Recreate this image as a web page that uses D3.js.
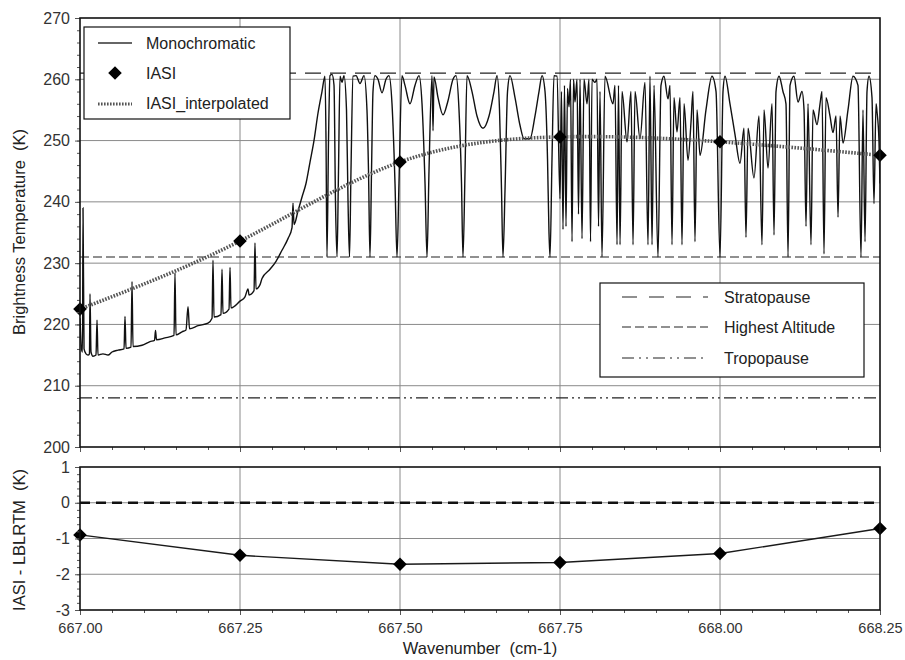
<!DOCTYPE html>
<html>
<head>
<meta charset="utf-8">
<title>IASI vs LBLRTM</title>
<style>
body { margin: 0; background: #fff; }
svg { font-family: "Liberation Sans", Arial, sans-serif; }
text { white-space: pre; }
.tick text { fill: #333; }
</style>
<script src="https://cdn.jsdelivr.net/npm/d3@7"></script>
</head>
<body>
<svg id="chart" width="905" height="660"></svg>
<script>
// tick labels
var xTicks = [667.00, 667.25, 667.50, 667.75, 668.00, 668.25];
var yTicksTop = [200, 210, 220, 230, 240, 250, 260, 270];
var yTicksBot = [-3, -2, -1, 0, 1];

// IASI channels
var iasiWn = [667.00, 667.25, 667.50, 667.75, 668.00, 668.25];
var iasiTb = [222.5, 233.6, 246.5, 250.6, 249.8, 247.6];
var diffK = [-0.9, -1.47, -1.72, -1.67, -1.42, -0.72];

// reference levels (K)
var levelNames = ["Stratopause", "Highest Altitude", "Tropopause"];
var levelTb = [261, 231, 208];

// monochromatic spectrum [wavenumber, Tb]
var mono = [
[667.0000,221],[667.0023,216],[667.0039,215.5],[667.0047,239],[667.0063,216],[667.0094,215.2],[667.0125,215],[667.0148,215.2],[667.0156,225],[667.0172,215.5],
[667.0203,214.8],[667.0250,215],[667.0266,220.7],[667.0281,215],[667.0359,215.2],[667.0438,215],[667.0500,215.5],[667.0594,215.8],[667.0688,216],[667.0703,221.3],
[667.0719,216.1],[667.0797,216.3],[667.0813,227],[667.0828,216.4],[667.0969,216.6],[667.1094,217.2],[667.1164,217.4],[667.1180,219],[667.1195,217.5],[667.1328,217.8],
[667.1469,218.2],[667.1484,228.4],[667.1500,218.3],[667.1594,218.8],[667.1656,219.1],[667.1688,222.9],[667.1711,219.3],[667.1844,219.8],[667.2000,220.2],[667.2063,221],
[667.2078,230.5],[667.2094,221.2],[667.2203,221.6],[667.2219,229],[667.2234,221.8],[667.2328,222.5],[667.2344,229.3],[667.2359,222.7],[667.2500,223.8],[667.2578,224.5],
[667.2625,225.8],[667.2641,224.8],[667.2719,225.5],[667.2734,233.3],[667.2750,225.8],[667.2813,226.5],[667.2844,227.5],[667.2969,229],[667.3063,230.3],[667.3156,232.1],
[667.3250,234],[667.3313,235.8],[667.3328,239.8],[667.3344,236.3],[667.3406,238.5],[667.3469,240.8],[667.3531,243],[667.3594,246.5],[667.3656,250],[667.3719,254.5],
[667.3781,258],
[667.3828,260.5],[667.3844,250],[667.3859,231],[667.3883,250],[667.3906,260.6],[667.3938,260.8],[667.3969,259],[667.3992,240],[667.4016,231],[667.4039,245],
[667.4063,260.5],[667.4094,259.5],[667.4125,260.6],[667.4164,255],[667.4188,240],[667.4211,231],[667.4234,245],[667.4266,260.5],[667.4313,260.6],[667.4375,259.3],
[667.4438,260.6],[667.4484,255],[667.4508,245],[667.4531,231],[667.4555,245],[667.4578,258],[667.4609,260.6],[667.4656,260],[667.4719,257.8],[667.4781,260],
[667.4828,260.6],[667.4875,256],[667.4922,243],[667.4953,231],[667.4984,243],[667.5031,260.6],[667.5078,259],[667.5156,256],[667.5234,259],[667.5297,260.6],
[667.5344,256],[667.5391,243],[667.5422,231],[667.5453,245],[667.5500,260.6],[667.5516,251.6],[667.5531,260.4],[667.5594,257],[667.5672,254.2],[667.5750,256.5],
[667.5828,260],[667.5875,260.6],[667.5922,255],[667.5961,243],[667.5984,231],[667.6016,245],[667.6047,260.6],[667.6125,258],[667.6203,254],[667.6297,252],
[667.6391,254],[667.6469,258],[667.6516,260.6],[667.6555,255],[667.6586,242],[667.6609,231],[667.6641,242],[667.6680,258],[667.6719,260.6],[667.6797,257],
[667.6875,252.5],[667.6938,250.3],[667.7031,250.3],[667.7109,254],[667.7172,258],[667.7219,260.6],[667.7266,258],[667.7305,247],[667.7328,235],[667.7344,231],
[667.7375,247],[667.7406,260.6],[667.7453,260.5],
[667.7500,240.5],[667.7523,258],[667.7547,235.5],[667.7570,259],[667.7594,236],[667.7617,258.5],[667.7641,255.5],[667.7664,260],[667.7688,233.5],[667.7711,260],
[667.7734,256.3],[667.7766,260],[667.7789,238],[667.7813,260],[667.7844,234],[667.7875,260],[667.7922,256],[667.7953,260],[667.7977,233.5],[667.8000,260],
[667.8047,259.5],[667.8078,260],[667.8102,236],[667.8125,258],[667.8156,231],[667.8203,260.5],[667.8328,256],[667.8359,259],[667.8391,233],[667.8414,259],
[667.8438,233],[667.8469,258],[667.8547,249.8],[667.8609,258],[667.8641,233],[667.8672,258],[667.8750,250.3],[667.8828,259.5],[667.8875,233],[667.8906,260.5],
[667.8938,233],[667.8969,259],[667.9031,231],[667.9078,259],[667.9125,260.5],[667.9188,256.8],[667.9219,259],[667.9250,233],[667.9281,257],[667.9328,251.4],
[667.9375,257],[667.9406,233],[667.9438,256],[667.9500,246.8],[667.9547,253],[667.9578,258],[667.9609,233.5],[667.9641,255],[667.9688,247.6],[667.9781,255],
[667.9875,260.5],[667.9938,258],[668.0000,231],[668.0047,258],[668.0078,260.5],[668.0156,256],[668.0234,251],[668.0313,246.3],[668.0375,252],[668.0406,234.2],
[668.0438,252],[668.0531,243.9],[668.0609,254],[668.0656,233],[668.0688,255],[668.0750,245.5],[668.0813,256],[668.0844,234.6],[668.0875,258],[668.0922,260.5],
[668.0984,258],[668.1031,256],[668.1063,231],[668.1094,259],[668.1156,260.5],[668.1219,256.3],[668.1281,258],[668.1313,255],[668.1344,236],[668.1375,256],
[668.1422,233],[668.1453,255],[668.1516,252.6],[668.1563,256],[668.1594,258],[668.1625,231.5],[668.1656,257],[668.1719,254],[668.1766,251.3],[668.1813,254],
[668.1844,237.5],[668.1875,254],[668.1922,249.6],[668.2000,255],[668.2078,260.5],[668.2156,259],[668.2203,231],[668.2234,255],[668.2266,233.5],[668.2297,258],
[668.2328,260.5],[668.2375,257],[668.2406,239.7],[668.2438,256],[668.2453,254.7],[668.2484,250],[668.2500,243]
];

var svg = d3.select("#chart");
var x = d3.scaleLinear().domain([667, 668.25]).range([80, 880]);
var yT = d3.scaleLinear().domain([200, 270]).range([447, 18]);
var yB = d3.scaleLinear().domain([-3, 1]).range([610, 467]);

var dashes = ["16,9", "9,4", "12,4,2,4,2,4"];
var diamond = d3.symbol().type(d3.symbolSquare).size(92);
var hyphenFmt = d => String(d);

function gridlines(y, yTicks) {
	var g = svg.append("g").attr("stroke", "#8a8a8a").attr("stroke-width", 1);
	g.selectAll(".vg").data(xTicks.slice(1, -1)).enter().append("line")
		.attr("x1", d => x(d)).attr("x2", d => x(d))
		.attr("y1", y.range()[1]).attr("y2", y.range()[0]);
	g.selectAll(".hg").data(yTicks.slice(1, -1)).enter().append("line")
		.attr("x1", 80).attr("x2", 880)
		.attr("y1", d => y(d)).attr("y2", d => y(d));
}

function axes(y, yTicks, yMinorStep, showX) {
	var y0 = y.range()[0];
	svg.append("g").attr("transform", "translate(0," + y0 + ")")
		.call(d3.axisBottom(x).tickValues(d3.range(667, 668.2501, 0.05)).tickSize(3).tickFormat(""));
	var xa = svg.append("g").attr("transform", "translate(0," + y0 + ")")
		.call(d3.axisBottom(x).tickValues(xTicks).tickSize(5).tickPadding(8)
			.tickFormat(showX ? d3.format(".2f") : ""));
	xa.selectAll("text").attr("font-size", 14.5);
	var lo = y.domain()[0], hi = y.domain()[1];
	svg.append("g").attr("transform", "translate(80,0)")
		.call(d3.axisLeft(y).tickValues(d3.range(lo, hi + 1e-6, yMinorStep)).tickSize(3).tickFormat(""));
	var ya = svg.append("g").attr("transform", "translate(80,0)")
		.call(d3.axisLeft(y).tickValues(yTicks).tickSize(5).tickPadding(5).tickFormat(hyphenFmt));
	ya.selectAll("text").attr("font-size", 16);
	svg.selectAll(".domain").remove();
	svg.selectAll(".tick line").attr("stroke", "#555");
	svg.append("rect").attr("x", 80).attr("y", y.range()[1])
		.attr("width", 800).attr("height", y0 - y.range()[1])
		.attr("fill", "none").attr("stroke", "#111").attr("stroke-width", 1.6);
}

// ---------- top panel ----------
gridlines(yT, yTicksTop);

svg.append("defs").append("clipPath").attr("id", "clipTop")
	.append("rect").attr("x", 80).attr("y", 18).attr("width", 800).attr("height", 429);

levelTb.forEach(function(t, i) {
	svg.append("line").attr("x1", 80).attr("x2", 880)
		.attr("y1", yT(t)).attr("y2", yT(t))
		.attr("stroke", "#222").attr("stroke-width", 1.2)
		.attr("stroke-dasharray", dashes[i]);
});

svg.append("path").datum(mono)
	.attr("clip-path", "url(#clipTop)")
	.attr("fill", "none").attr("stroke", "#111").attr("stroke-width", 1.4)
	.attr("d", d3.line().x(d => x(d[0])).y(d => yT(d[1])).curve(d3.curveMonotoneX));

var iasi = iasiWn.map((w, i) => [w, iasiTb[i], diffK[i]]);

svg.append("path").datum(iasi)
	.attr("fill", "none").attr("stroke", "#555").attr("stroke-width", 3.6)
	.attr("stroke-dasharray", "1.6,1.4")
	.attr("d", d3.line().x(d => x(d[0])).y(d => yT(d[1])).curve(d3.curveNatural));

svg.selectAll(".iasiTop").data(iasi).enter().append("path")
	.attr("transform", d => "translate(" + x(d[0]) + "," + yT(d[1]) + ") rotate(45)")
	.attr("d", diamond).attr("fill", "#000");

axes(yT, yTicksTop, 2, false);

// legend 1
var lg1 = svg.append("g");
lg1.append("rect").attr("x", 84).attr("y", 27).attr("width", 206).attr("height", 92)
	.attr("fill", "#fff").attr("stroke", "#111").attr("stroke-width", 1.2);
lg1.append("line").attr("x1", 98).attr("x2", 132).attr("y1", 43).attr("y2", 43)
	.attr("stroke", "#333").attr("stroke-width", 1.3);
lg1.append("path").attr("transform", "translate(115,73) rotate(45)")
	.attr("d", diamond).attr("fill", "#000");
lg1.append("line").attr("x1", 98).attr("x2", 132).attr("y1", 104).attr("y2", 104)
	.attr("stroke", "#555").attr("stroke-width", 3).attr("stroke-dasharray", "1.6,1.4");
["Monochromatic", "IASI", "IASI_interpolated"].forEach(function(t, i) {
	lg1.append("text").attr("x", 146).attr("y", [43, 73, 103][i]).attr("dy", "0.35em")
		.attr("font-size", 16).attr("fill", "#222").text(t);
});

// legend 2
var lg2 = svg.append("g");
lg2.append("rect").attr("x", 600).attr("y", 283).attr("width", 264).attr("height", 94)
	.attr("fill", "#fff").attr("stroke", "#111").attr("stroke-width", 1.2);
var lgDash = ["15,12", "9,4", "12,5,2,5,2,5"];
levelNames.forEach(function(t, i) {
	var yy = [297, 327, 358][i];
	lg2.append("line").attr("x1", 622).attr("x2", 708).attr("y1", yy).attr("y2", yy)
		.attr("stroke", "#222").attr("stroke-width", 1.2).attr("stroke-dasharray", lgDash[i]);
	lg2.append("text").attr("x", 724).attr("y", yy).attr("dy", "0.35em")
		.attr("font-size", 16).attr("fill", "#222").text(t);
});

// ---------- bottom panel ----------
gridlines(yB, yTicksBot);

svg.append("line").attr("x1", 80).attr("x2", 880).attr("y1", yB(0)).attr("y2", yB(0))
	.attr("stroke", "#111").attr("stroke-width", 2.6).attr("stroke-dasharray", "10,6");

svg.append("path").datum(iasi)
	.attr("fill", "none").attr("stroke", "#1a1a1a").attr("stroke-width", 1.4)
	.attr("d", d3.line().x(d => x(d[0])).y(d => yB(d[2])));

svg.selectAll(".iasiBot").data(iasi).enter().append("path")
	.attr("transform", d => "translate(" + x(d[0]) + "," + yB(d[2]) + ") rotate(45)")
	.attr("d", diamond).attr("fill", "#000");

axes(yB, yTicksBot, 0.2, true);

// axis titles
svg.append("text").attr("transform", "translate(25,232) rotate(-90)")
	.attr("text-anchor", "middle").attr("font-size", 16.5).attr("fill", "#222")
	.text("Brightness Temperature  (K)");
svg.append("text").attr("transform", "translate(25,540) rotate(-90)")
	.attr("text-anchor", "middle").attr("font-size", 16.5).attr("fill", "#222")
	.text("IASI - LBLRTM  (K)");
svg.append("text").attr("x", 480).attr("y", 654)
	.attr("text-anchor", "middle").attr("font-size", 16.5).attr("fill", "#222")
	.text("Wavenumber  (cm-1)");
</script>
</body>
</html>
